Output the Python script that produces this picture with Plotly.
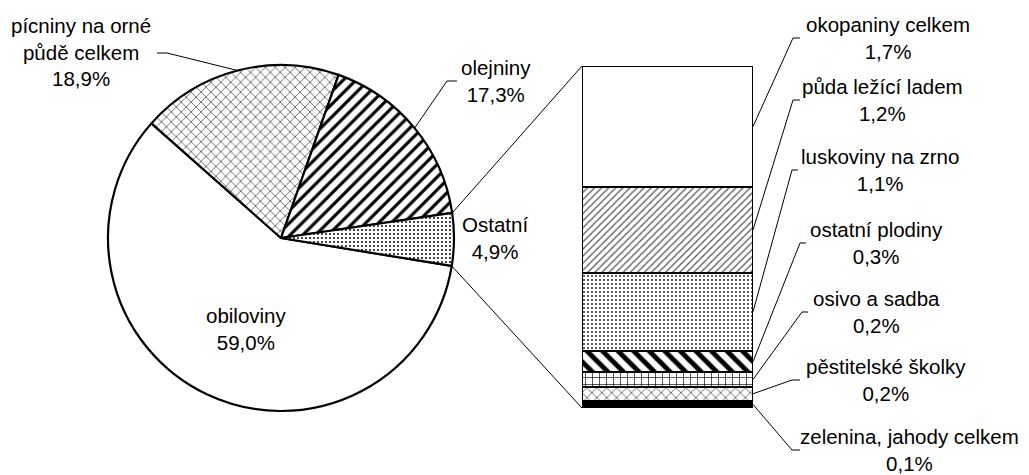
import math
import plotly.graph_objects as go

# data
pie_labels = ['obiloviny', 'pícniny na orné<br>půdě celkem', 'olejniny', 'Ostatní']
pie_values = [59.0, 18.9, 17.3, 4.9]

bar_labels = ['zelenina, jahody celkem', 'pěstitelské školky', 'osivo a sadba',
              'ostatní plodiny', 'luskoviny na zrno', 'půda ležící ladem', 'okopaniny celkem']
bar_values = [0.1, 0.2, 0.2, 0.3, 1.1, 1.2, 1.7]

# look
OFF = 8  # the page body has an 8px margin
W, H = 1029 - OFF, 475 - OFF
FONT = dict(family='Liberation Sans, Arial, sans-serif', size=20.5, color='black')

pie_shapes = ['', 'x', '/', '.']
pie_sizes = [8, 7, 9, 4]
pie_solid = [0.2, 0.15, 0.35, 0.18]

bar_fills = ['black', 'white', 'white', 'white', 'white', 'white', 'white']
bar_shapes = ['', 'x', '+', '\\', '.', '/', '']
bar_sizes = [6, 7, 7, 11, 4, 5, 6]
bar_solid = [0.2, 0.15, 0.18, 0.45, 0.18, 0.25, 0.2]
bar_fg = ['black', 'black', 'black', 'black', '#222222', '#555555', 'black']

# pixel geometry of the two parts (page pixels)
pie_x0, pie_x1, pie_y0, pie_y1 = 108, 454, 65, 411
bar_x0, bar_x1, bar_top, bar_bot = 582, 753, 66, 408
rotation = 99.3


def px(x):
    return (x - OFF) / W


def py(y):
    return 1 - (y - OFF) / H


cx, cy = (pie_x0 + pie_x1) / 2, (pie_y0 + pie_y1) / 2
r = (pie_x1 - pie_x0) / 2
total = sum(pie_values)


def edge(angle_cw, rad=r):
    a = math.radians(angle_cw)
    return cx + rad * math.sin(a), cy - rad * math.cos(a)


# slice boundary angles (clockwise from 12 o'clock)
bounds = [rotation]
for v in pie_values:
    bounds.append(bounds[-1] + v / total * 360)

bar_total = sum(bar_values)


def bar_y(v):
    return bar_bot - v / bar_total * (bar_bot - bar_top)


fig = go.Figure()

fig.add_trace(go.Pie(
    labels=pie_labels, values=pie_values, sort=False, direction='clockwise',
    rotation=rotation, textinfo='none', hoverinfo='label+percent',
    domain=dict(x=[px(pie_x0), px(pie_x1)], y=[py(pie_y1), py(pie_y0)]),
    marker=dict(colors=['white'] * 4, line=dict(color='black', width=2.2),
                pattern=dict(shape=pie_shapes, size=pie_sizes, solidity=pie_solid,
                             fgcolor='black', bgcolor='white', fgopacity=1,
                             fillmode='overlay')),
))

for i in range(len(bar_values)):
    fig.add_trace(go.Bar(
        x=[0], y=[bar_values[i]], width=1, name=bar_labels[i],
        marker=dict(color=bar_fills[i], line=dict(color='black', width=2.2),
                    pattern=dict(shape=bar_shapes[i], size=bar_sizes[i], solidity=bar_solid[i],
                                 fgcolor=bar_fg[i], bgcolor=bar_fills[i], fgopacity=1,
                                 fillmode='overlay')),
        xaxis='x', yaxis='y', hoverinfo='name+y',
    ))

shapes = []
annotations = []


def line(points, width=1):
    path = 'M ' + ' L '.join(f'{px(x)} {py(y)}' for x, y in points)
    shapes.append(dict(type='path', path=path, xref='paper', yref='paper',
                       line=dict(color='black', width=width)))


def label(text, x, y):
    annotations.append(dict(text=text, x=px(x), y=py(y), xref='paper', yref='paper',
                            xanchor='center', yanchor='middle', showarrow=False,
                            font=FONT, align='center'))


def fmt(v):
    return f'{v:.1f}'.replace('.', ',') + '%'


# connectors from the "Ostatní" slice to the bar
ost_a0, ost_a1 = bounds[3], bounds[4]
line([edge(ost_a0), (bar_x0, bar_top)])
line([edge(ost_a1), (bar_x0, bar_bot)])

# pie labels
pie_pos = [(246, 329), (81, 52), (496, 81), (495, 238)]
for lab, v, (x, y) in zip(pie_labels, pie_values, pie_pos):
    label(f'{lab}<br>{fmt(v)}', x, y)

# pie leader lines
mid_pic = (bounds[1] + bounds[2]) / 2
line([edge(mid_pic), (167, 53), (157, 53)])
mid_ole = (bounds[2] + bounds[3]) / 2
line([edge(mid_ole), (447, 81), (457, 81)])

# bar labels with leader lines
bar_pos = [(909, 450), (886, 380), (876, 312), (876, 243), (880, 170), (882, 100), (888, 38)]
elbow = [(792, 800), (792, 800), (802, 808), (800, 806), (792, 798), (793, 800), (793, 800)]
cum = 0
for lab, v, (x, y), (e0, e1) in zip(bar_labels, bar_values, bar_pos, elbow):
    mid = bar_y(cum + v / 2)
    cum += v
    label(f'{lab}<br>{fmt(v)}', x, y)
    line([(bar_x1, mid), (e0, y), (e1, y)])

fig.update_layout(
    width=W, height=H, margin=dict(l=0, r=0, t=0, b=0), autosize=False,
    barmode='stack', bargap=0, showlegend=False,
    plot_bgcolor='white', paper_bgcolor='white',
    xaxis=dict(domain=[px(bar_x0), px(bar_x1)], range=[-0.5, 0.5], visible=False,
               fixedrange=True),
    yaxis=dict(domain=[py(bar_bot), py(bar_top)], range=[0, bar_total], visible=False,
               fixedrange=True),
    shapes=shapes, annotations=annotations,
)

fig.write_html('out.html')
